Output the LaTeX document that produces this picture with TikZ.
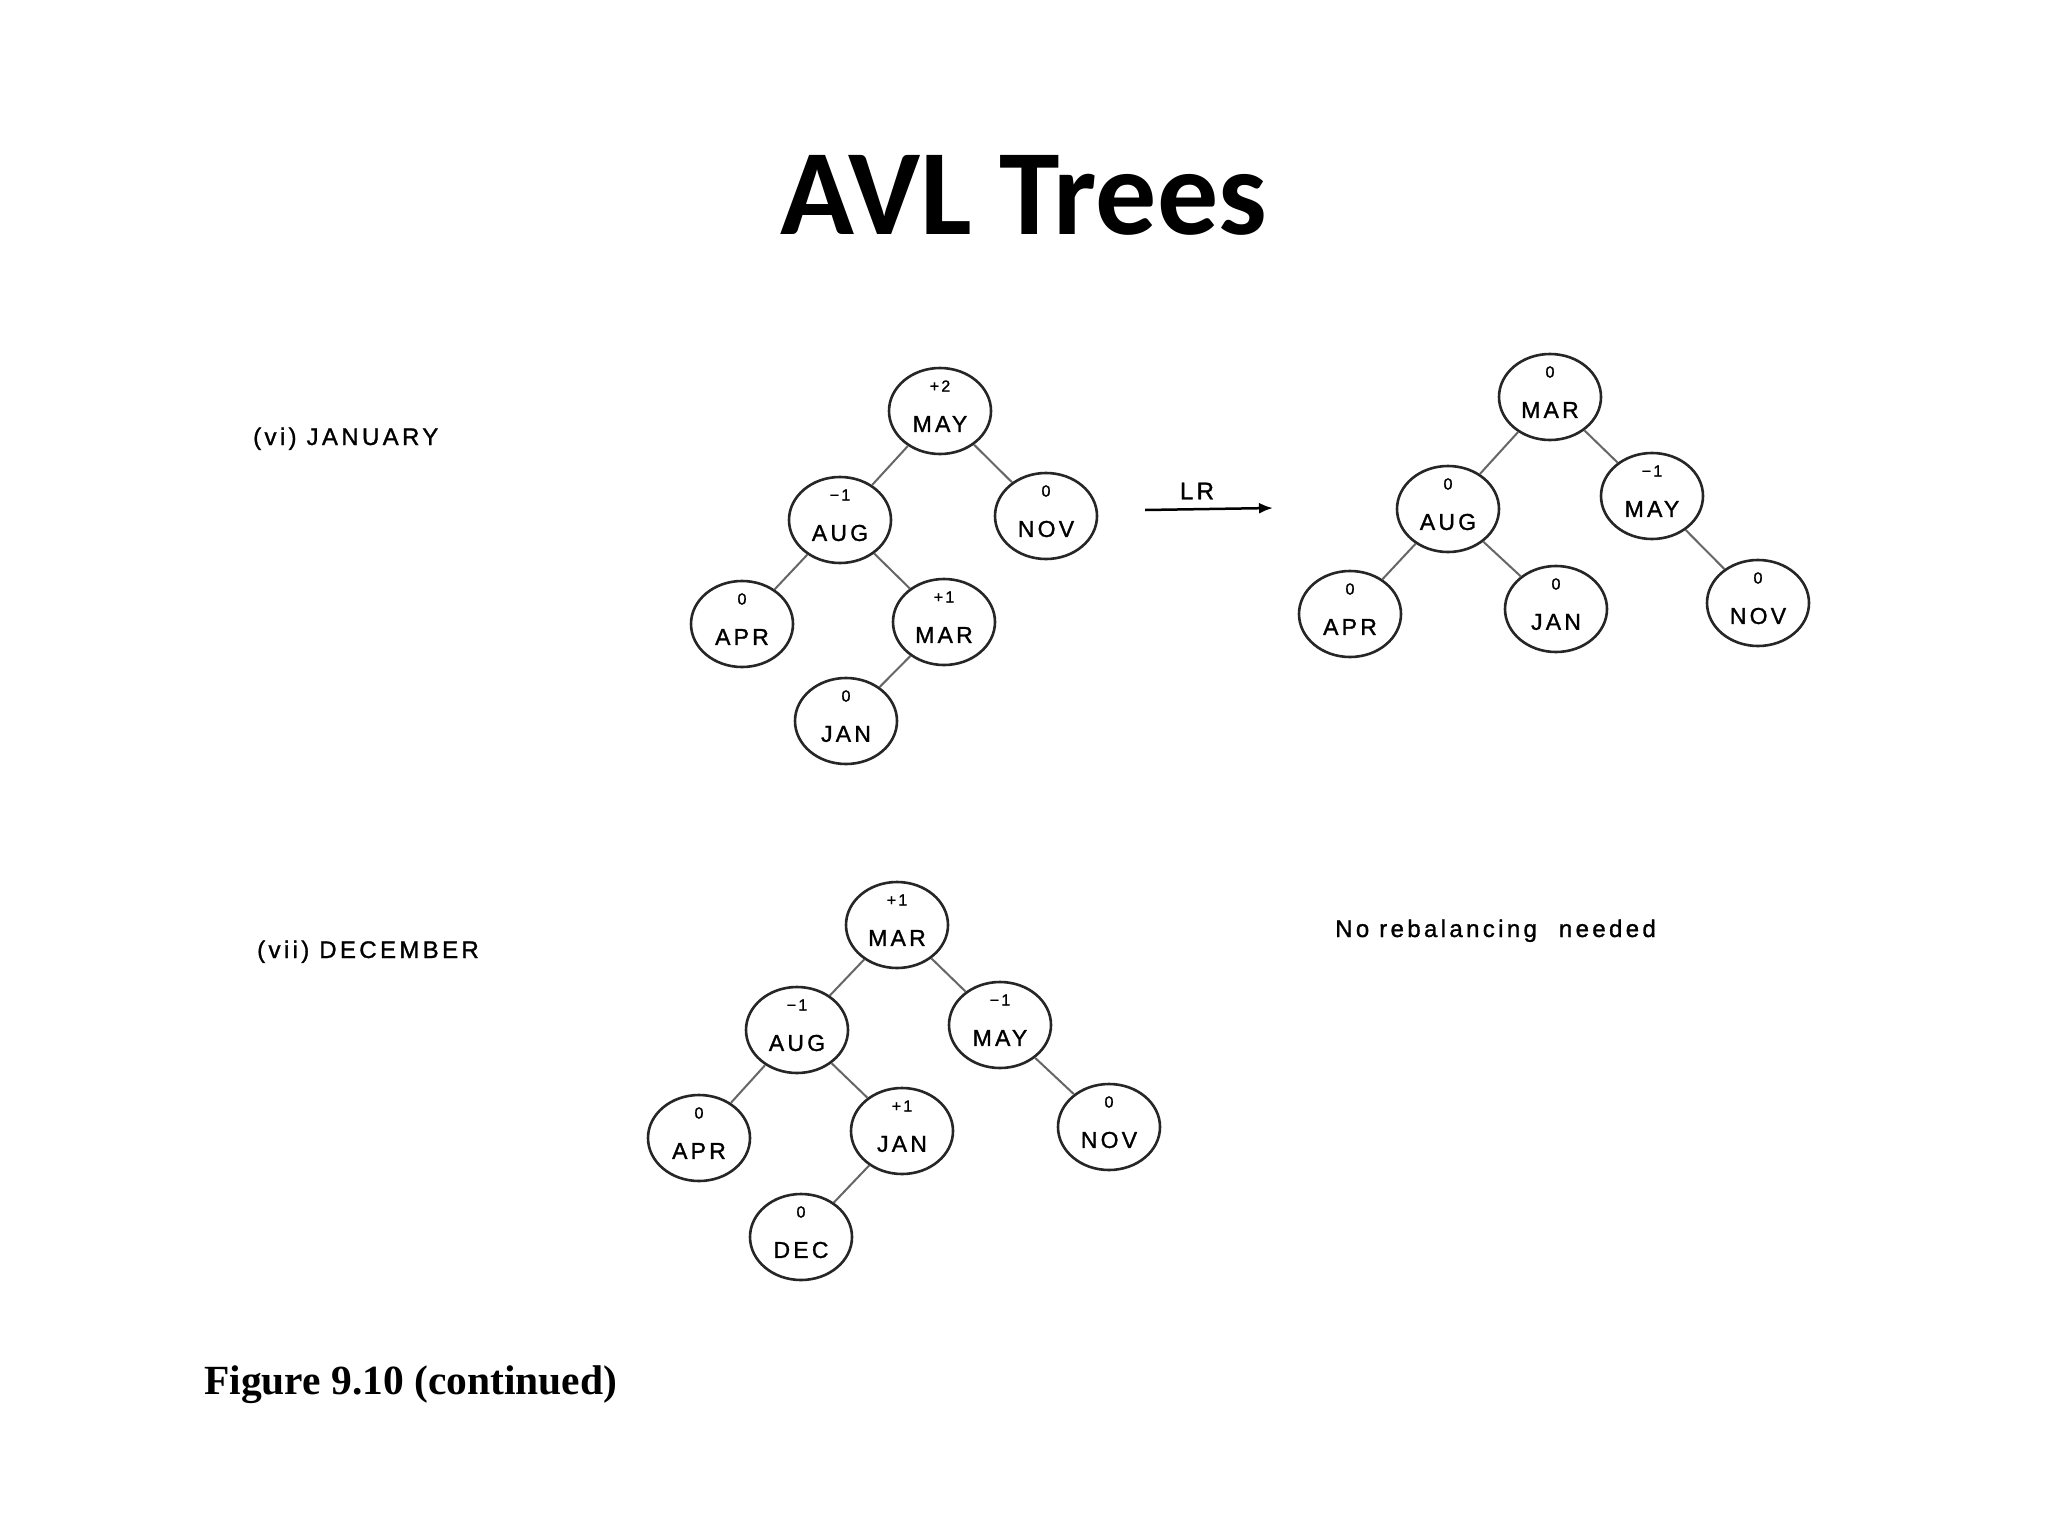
\documentclass[tikz,border=0pt]{standalone}
\usepackage{fontspec}
\setmainfont{Liberation Serif}
\newfontfamily\lett[LetterSpace=14,FakeBold=1.2]{Liberation Sans}
\newfontfamily\titlef{Carlito}
\usetikzlibrary{arrows.meta,shapes.geometric}
\tikzset{
  avl/.style={ellipse, draw=black!85, line width=2.6pt, minimum width=102pt, minimum height=86pt, inner sep=0pt},
  balf/.style={inner sep=0pt, font=\lett\fontsize{16pt}{18pt}\selectfont},
  nmf/.style={inner sep=0pt, font=\lett\fontsize{23pt}{26pt}\selectfont},
  edge/.style={draw=black!60, line width=2pt},
  lbl/.style={inner sep=0pt, anchor=base west, font=\lett\fontsize{24pt}{28pt}\selectfont},
}
\newcommand\avlnode[4]{%
  \node[avl] (#1) at (#2) {};
  \node[balf] (#1b) at ([yshift=25pt]#1.center) {#3};
  \node[nmf] (#1t) at ([yshift=-13pt]#1.center) {#4};
}
\begin{document}
\begin{tikzpicture}[x=1pt,y=-1pt]
\useasboundingbox[fill=white] (0,0) rectangle (2048,1536);
% title
\node[inner sep=0pt, anchor=base, font=\titlef\bfseries\fontsize{122pt}{130pt}\selectfont] (title) at (1024,234) {AVL Trees};
% labels
\node[lbl] (lab6) at (253,445) {(vi) JANUARY};
\node[lbl] (lab7) at (257,958) {(vii) DECEMBER};
\node[lbl] (norb) at (1335,937) {No rebalancing\hspace{12pt} needed};
\node[inner sep=0pt, anchor=base west, font=\bfseries\fontsize{41.5pt}{46pt}\selectfont] (fig) at (204,1394) {Figure 9.10 (continued)};
% tree 1
\avlnode{a1}{940,411}{+2}{MAY}
\avlnode{a2}{840,520}{−1}{AUG}
\avlnode{a3}{1046,516}{0}{NOV}
\avlnode{a4}{742,624}{0}{APR}
\avlnode{a5}{944,622}{+1}{MAR}
\avlnode{a6}{846,721}{0}{JAN}
\draw[edge] (a1) -- (a2);
\draw[edge] (a1) -- (a3);
\draw[edge] (a2) -- (a4);
\draw[edge] (a2) -- (a5);
\draw[edge] (a5) -- (a6);
% arrow
\coordinate (ar1) at (1145,510);
\coordinate (ar2) at (1273,508);
\draw[line width=2.5pt, -{Latex[length=14pt,width=11pt]}] (ar1) -- (ar2);
\node[inner sep=0pt, font=\lett\fontsize{24pt}{28pt}\selectfont] (lr) at (1197,491) {LR};
% tree 2
\avlnode{b1}{1550,397}{0}{MAR}
\avlnode{b2}{1448,509}{0}{AUG}
\avlnode{b3}{1652,496}{−1}{MAY}
\avlnode{b4}{1350,614}{0}{APR}
\avlnode{b5}{1556,609}{0}{JAN}
\avlnode{b6}{1758,603}{0}{NOV}
\draw[edge] (b1) -- (b2);
\draw[edge] (b1) -- (b3);
\draw[edge] (b2) -- (b4);
\draw[edge] (b2) -- (b5);
\draw[edge] (b3) -- (b6);
% tree 3
\avlnode{c1}{897,925}{+1}{MAR}
\avlnode{c2}{797,1030}{−1}{AUG}
\avlnode{c3}{1000,1025}{−1}{MAY}
\avlnode{c4}{699,1138}{0}{APR}
\avlnode{c5}{902,1131}{+1}{JAN}
\avlnode{c6}{1109,1127}{0}{NOV}
\avlnode{c7}{801,1237}{0}{DEC}
\draw[edge] (c1) -- (c2);
\draw[edge] (c1) -- (c3);
\draw[edge] (c2) -- (c4);
\draw[edge] (c2) -- (c5);
\draw[edge] (c3) -- (c6);
\draw[edge] (c5) -- (c7);
\end{tikzpicture}
\end{document}
